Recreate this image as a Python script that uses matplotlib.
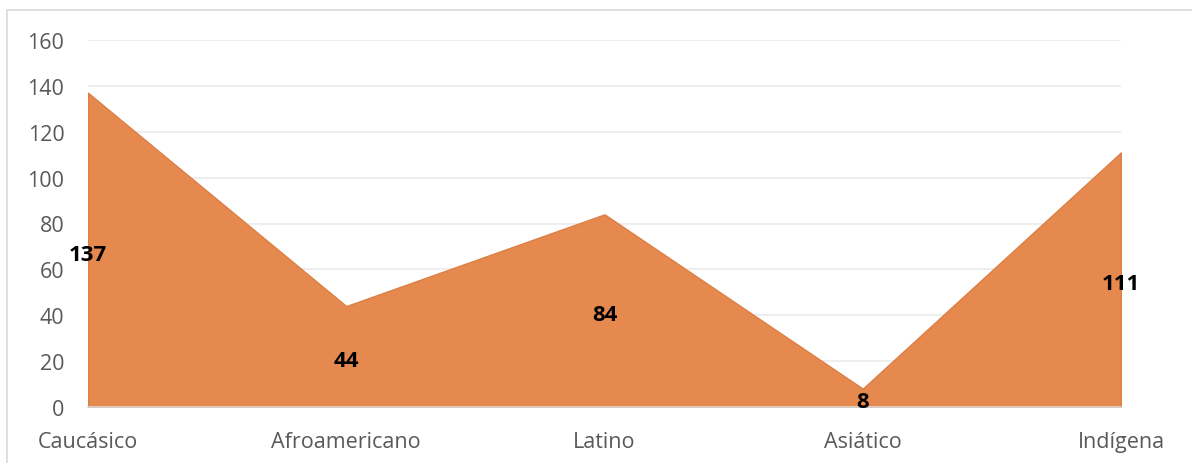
import matplotlib
matplotlib.use("Agg")
import matplotlib.pyplot as plt
from matplotlib.patches import Rectangle

categories = ["Caucásico", "Afroamericano", "Latino", "Asiático", "Indígena"]
values = [137, 44, 84, 8, 111]
y_ticks = [0, 20, 40, 60, 80, 100, 120, 140, 160]

plt.rcParams["font.family"] = ["Open Sans", "DejaVu Sans"]

fig = plt.figure(figsize=(11.92, 4.64), dpi=100)
ax = fig.add_axes([88 / 1192, 1 - 408 / 464, (1121 - 88) / 1192, (408 - 41) / 464])

# outer chart frame
fig.patches.append(Rectangle((7 / 1192, -0.05), 1.1, 1 - 11 / 464 + 0.05,
                             transform=fig.transFigure, fill=False,
                             edgecolor="#D9D9D9", linewidth=1.2))

x = list(range(len(categories)))
ax.fill_between(x, values, 0, color="#E5894F", edgecolor="#DC7F45", linewidth=1.0, zorder=2)

# value labels centred in the area
for xi, v in zip(x, values):
    ax.annotate(str(v), (xi, v / 2), xytext=(0, -3), textcoords="offset points",
                ha="center", va="center", fontsize=16,
                fontweight="bold", color="black", zorder=3)

ax.set_xlim(0, len(categories) - 1)
ax.set_ylim(0, 160)
ax.set_yticks(y_ticks)
ax.set_xticks(x)
ax.set_xticklabels(categories)
ax.grid(axis="y", color="#EBEBEB", linewidth=1.2, zorder=0)
ax.set_axisbelow(True)
for s in ["top", "right", "left"]:
    ax.spines[s].set_visible(False)
ax.spines["bottom"].set_color("#D9D9D9")
ax.spines["bottom"].set_linewidth(1.2)
ax.tick_params(axis="both", length=0, labelsize=15.5, labelcolor="#595959")
ax.tick_params(axis="x", pad=17)
ax.tick_params(axis="y", pad=17)

fig.savefig("out.png", dpi=100)
